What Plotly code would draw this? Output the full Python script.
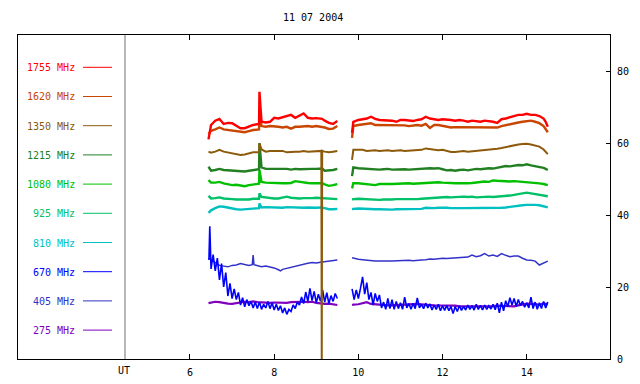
import plotly.graph_objects as go

# ---------------- data ----------------
FREQ_LABELS = ["1755 MHz", "1620 MHz", "1350 MHz", "1215 MHz", "1080 MHz",
               "925 MHz", "810 MHz", "670 MHz", "405 MHz", "275 MHz"]
COLORS = ["#ff0000", "#c84600", "#8c5a0a", "#228022", "#00c000",
          "#00c068", "#00c0c0", "#0000ff", "#3232c8", "#8000c0"]

X_TICKS = [6, 8, 10, 12, 14]
Y_TICKS = [0, 20, 40, 60, 80]
TITLE = "11 07 2004"
X_LABEL = "UT"

# common time grid (UT hours) for the upper channels
T1 = [6.44, 6.5, 6.6, 6.7, 6.8, 6.9, 7.0, 7.1, 7.2, 7.3, 7.4, 7.5, 7.64, 7.65, 7.7, 7.8,
      7.9, 8.0, 8.1, 8.2, 8.3, 8.4, 8.5, 8.6, 8.7, 8.8, 8.9, 9.0, 9.1, 9.12, 9.13, 9.14,
      9.2, 9.3, 9.4, 9.5]
T2 = [9.85, 9.88, 10.0, 10.1, 10.2, 10.3, 10.4, 10.5, 10.6, 10.7, 10.8, 10.9,
      11.0, 11.1, 11.2, 11.3, 11.4, 11.5, 11.6, 11.7, 11.8, 11.9,
      12.0, 12.1, 12.2, 12.3, 12.4, 12.5, 12.6, 12.7, 12.8, 12.9,
      13.0, 13.1, 13.2, 13.3, 13.4, 13.5, 13.6, 13.7, 13.8, 13.9,
      14.0, 14.1, 14.2, 14.3, 14.4, 14.45, 14.5]

S1755_1 = [61.0, 65.0, 66.2, 66.7, 65.3, 65.6, 65.5, 64.7, 64.1, 64.1, 64.5, 65.0, 65.3, 74.2,
           65.9, 65.7, 65.9, 67.0, 66.8, 67.2, 67.6, 67.8, 67.0, 67.6, 68.2, 67.0, 66.8, 66.9,
           66.9, 66.8, 66.8, 66.7, 66.2, 65.6, 65.3, 66.1]
S1755_2 = [62.8, 65.9, 66.4, 66.6, 66.8, 67.3, 66.7, 66.4, 66.4, 66.4, 66.2, 65.9,
           66.4, 66.4, 66.2, 66.1, 66.4, 66.6, 67.3, 66.8, 66.6, 66.4,
           66.6, 66.6, 66.4, 66.2, 66.4, 66.2, 65.9, 66.2, 66.1, 65.9,
           66.2, 66.1, 65.9, 65.6, 66.6, 66.8, 67.1, 67.3, 67.8, 67.8,
           68.1, 67.8, 67.8, 67.5, 66.8, 65.9, 64.5]

S1620_1 = [62.5, 63.4, 63.8, 64.3, 63.8, 63.6, 63.6, 63.4, 63.1, 63.0, 63.3, 63.6, 63.8, 68.0,
           64.7, 64.5, 64.7, 64.7, 64.5, 64.3, 64.5, 64.0, 64.5, 64.5, 64.7, 64.7, 64.5, 64.7,
           64.5, 64.5, 64.5, 64.5, 64.3, 63.9, 64.0, 64.7]
S1620_2 = [61.4, 64.7, 65.0, 65.2, 65.2, 65.5, 65.0, 65.0, 65.1, 65.0, 64.9, 65.0,
           65.1, 64.9, 64.7, 64.9, 65.0, 64.8, 65.3, 64.2, 65.0, 65.0,
           64.8, 64.6, 64.3, 64.4, 64.4, 64.3, 64.4, 64.5, 64.5, 64.4,
           64.5, 64.5, 64.5, 64.3, 64.7, 65.0, 65.3, 65.5, 65.7, 65.9,
           66.1, 66.2, 65.9, 65.5, 64.7, 63.8, 63.0]

S1350_1 = [57.6, 57.3, 57.6, 58.1, 57.6, 57.4, 57.3, 57.0, 56.7, 56.8, 57.0, 57.4, 57.4, 59.9,
           58.2, 57.6, 57.8, 57.8, 57.6, 57.8, 57.4, 57.6, 57.6, 57.6, 57.8, 57.6, 57.6, 57.8,
           57.8, 57.8, 0.0, 57.8, 57.6, 57.4, 57.6, 57.8]
S1350_2 = [55.3, 58.1, 58.1, 58.1, 57.8, 58.0, 58.0, 57.8, 57.9, 58.0, 57.8, 57.9,
           58.0, 57.8, 57.9, 58.0, 57.9, 58.1, 58.5, 58.3, 58.1, 58.0,
           58.1, 57.7, 57.5, 57.5, 57.6, 57.8, 57.6, 57.7, 57.8, 57.8,
           58.0, 58.0, 58.2, 58.4, 58.6, 58.9, 59.1, 59.4, 59.6, 59.7,
           59.8, 59.6, 59.4, 59.0, 58.2, 57.6, 56.9]

S1215_1 = [53.4, 52.3, 52.5, 52.8, 52.5, 52.4, 52.2, 52.2, 52.0, 52.1, 52.3, 52.5, 52.7, 60.0,
           53.2, 52.8, 52.8, 53.0, 52.9, 52.8, 52.8, 52.6, 52.8, 52.7, 52.8, 52.9, 52.8, 52.8,
           52.9, 52.9, 52.9, 52.9, 52.3, 52.3, 52.5, 52.8]
S1215_2 = [50.8, 53.2, 53.0, 52.9, 52.9, 52.7, 52.8, 52.6, 52.7, 52.8, 52.6, 52.7,
           52.8, 52.7, 52.6, 52.7, 52.8, 52.7, 52.9, 53.0, 52.9, 53.0,
           52.7, 52.4, 52.5, 52.3, 52.5, 52.6, 52.4, 52.6, 52.8, 52.7,
           52.9, 53.0, 52.9, 53.2, 53.3, 53.6, 53.5, 53.8, 53.9, 53.8,
           54.1, 53.8, 53.6, 53.4, 53.1, 52.8, 52.5]

S1080_1 = [49.7, 49.0, 49.0, 49.2, 48.8, 48.6, 48.3, 48.4, 48.1, 48.0, 48.3, 48.5, 48.7, 52.5,
           49.2, 49.0, 48.9, 49.0, 48.9, 48.8, 48.8, 48.9, 49.4, 49.2, 48.9, 48.9, 48.8, 48.9,
           48.8, 48.8, 48.8, 48.8, 48.5, 48.1, 48.3, 48.6]
S1080_2 = [47.4, 48.8, 48.8, 48.7, 48.6, 48.5, 48.3, 48.6, 48.5, 48.6, 48.6, 48.7,
           48.6, 48.7, 48.8, 48.7, 48.8, 48.9, 48.8, 49.0, 49.0, 49.1,
           49.0, 48.9, 48.7, 48.8, 48.8, 48.7, 48.8, 48.9, 49.1, 49.2,
           49.3, 49.2, 49.6, 49.5, 49.4, 49.3, 49.3, 49.4, 49.3, 49.2,
           49.3, 49.2, 49.0, 48.8, 48.6, 48.5, 48.3]

S925_1 = [45.3, 44.6, 44.7, 44.9, 44.6, 44.6, 44.4, 44.3, 44.2, 44.3, 44.3, 44.5, 44.5, 46.0,
          45.0, 44.8, 44.8, 44.6, 44.6, 44.8, 45.1, 44.8, 44.6, 44.6, 44.7, 44.6, 44.7, 44.8,
          44.7, 44.7, 44.7, 44.7, 44.5, 44.4, 44.3, 44.4]
S925_2 = [44.3, 44.4, 44.5, 44.4, 44.3, 44.3, 44.2, 44.2, 44.3, 44.2, 44.3, 44.4,
          44.4, 44.3, 44.2, 44.4, 44.4, 44.5, 44.6, 44.7, 44.8, 44.8,
          44.9, 45.0, 44.9, 45.0, 45.0, 45.1, 45.0, 45.1, 44.9, 45.0,
          45.0, 45.1, 45.0, 45.1, 45.0, 45.2, 45.4, 45.6, 45.8, 46.0,
          46.2, 46.0, 45.8, 45.7, 45.5, 45.4, 45.2]

S810_1 = [40.6, 41.3, 41.9, 42.4, 42.3, 42.0, 41.8, 41.6, 41.5, 41.6, 41.8, 41.9, 41.9, 43.2,
          42.1, 42.2, 42.1, 42.2, 42.1, 42.0, 42.2, 42.1, 42.0, 42.1, 42.0, 42.1, 42.0, 42.0,
          42.1, 42.0, 42.0, 42.0, 41.9, 41.6, 41.6, 41.7]
S810_2 = [41.6, 41.7, 41.8, 41.7, 41.7, 41.6, 41.6, 41.6, 41.5, 41.6, 41.5, 41.6,
          41.6, 41.5, 41.6, 41.6, 41.7, 41.7, 42.0, 41.9, 41.9, 42.0,
          42.1, 42.0, 41.9, 42.0, 41.9, 41.9, 41.9, 41.8, 41.9, 42.0,
          41.9, 41.9, 42.0, 41.9, 42.0, 42.1, 42.3, 42.5, 42.6, 42.7,
          42.8, 42.9, 42.8, 42.7, 42.5, 42.3, 42.1]

# 670 MHz (noisy) on its own finer time grid
T670_1 = [6.45, 6.47, 6.5, 6.55, 6.6, 6.65, 6.7, 6.75, 6.8, 6.85, 6.9, 6.95,
          7.0, 7.05, 7.1, 7.15, 7.2, 7.25, 7.3, 7.35, 7.4, 7.45, 7.5, 7.55,
          7.6, 7.65, 7.7, 7.75, 7.8, 7.85, 7.9, 7.95, 8.0, 8.05, 8.1, 8.15,
          8.2, 8.25, 8.3, 8.35, 8.4, 8.45, 8.5, 8.55, 8.6, 8.65, 8.7, 8.75,
          8.8, 8.85, 8.9, 8.95, 9.0, 9.05, 9.1, 9.15, 9.2, 9.25, 9.3, 9.35,
          9.4, 9.45, 9.5]
S670_1 = [27.5, 36.9, 25.0, 29.0, 24.5, 28.0, 22.0, 26.5, 20.0, 24.0, 17.5, 21.0,
          16.8, 19.5, 16.5, 18.5, 15.0, 17.0, 14.5, 16.5, 14.8, 16.0, 14.2, 15.8,
          14.0, 15.8, 13.8, 15.2, 14.2, 16.0, 14.0, 15.6, 13.6, 15.2, 13.5, 14.8,
          12.8, 14.2, 12.4, 13.8, 13.2, 15.0, 14.0, 15.8, 15.0, 17.2, 15.4, 18.6,
          16.0, 19.6, 16.2, 18.8, 15.6, 18.0, 16.0, 19.2, 15.8, 18.4, 15.4, 17.6,
          16.0, 18.2, 16.8]
T670_2 = [9.85, 9.9, 9.95, 10.0, 10.05, 10.1, 10.15, 10.2, 10.25, 10.3, 10.35, 10.4,
          10.45, 10.5, 10.55, 10.6, 10.65, 10.7, 10.75, 10.8, 10.85, 10.9, 10.95,
          11.0, 11.05, 11.1, 11.15, 11.2, 11.25, 11.3, 11.35, 11.4, 11.45, 11.5, 11.55,
          11.6, 11.65, 11.7, 11.75, 11.8, 11.85, 11.9, 11.95,
          12.0, 12.05, 12.1, 12.15, 12.2, 12.25, 12.3, 12.35, 12.4, 12.45, 12.5, 12.55,
          12.6, 12.65, 12.7, 12.75, 12.8, 12.85, 12.9, 12.95,
          13.0, 13.05, 13.1, 13.15, 13.2, 13.25, 13.3, 13.35, 13.4, 13.45, 13.5, 13.55,
          13.6, 13.65, 13.7, 13.75, 13.8, 13.85, 13.9, 13.95,
          14.0, 14.05, 14.1, 14.15, 14.2, 14.25, 14.3, 14.35, 14.4, 14.45, 14.5]
S670_2 = [19.5, 16.5, 19.2, 16.8, 19.6, 22.8, 18.0, 21.2, 16.5, 18.5, 15.0, 18.2,
          16.0, 17.8, 14.2, 15.8, 13.8, 16.8, 14.0, 16.5, 13.8, 16.0, 14.0,
          15.6, 13.8, 17.2, 14.2, 15.4, 13.8, 15.5, 14.0, 17.0, 14.2, 15.2, 14.0,
          15.5, 14.2, 15.3, 13.6, 15.0, 13.8, 15.2, 13.4,
          14.8, 13.5, 14.9, 13.4, 14.6, 12.6, 14.6, 13.2, 14.8, 13.5, 14.6, 13.6,
          15.0, 13.8, 14.8, 13.6, 15.2, 13.8, 14.9, 13.6,
          15.0, 13.8, 14.8, 13.9, 15.2, 13.7, 15.5, 12.8, 15.8, 13.4, 16.2, 14.5,
          17.0, 15.0, 16.8, 14.6, 16.5, 14.8, 16.0, 14.4,
          15.6, 14.2, 17.2, 14.0, 15.8, 13.8, 15.6, 14.0, 16.0, 14.2, 15.8]

# 405 MHz
T405_1 = [6.44, 6.5, 6.6, 6.7, 6.8, 6.9, 7.0, 7.1, 7.2, 7.3, 7.4, 7.48, 7.5, 7.52, 7.6,
          7.7, 7.8, 7.9, 8.0, 8.1, 8.15, 8.2, 8.3, 8.4, 8.5, 8.6, 8.7, 8.8, 8.9, 9.0,
          9.1, 9.2, 9.3, 9.4, 9.5]
S405_1 = [28.0, 27.5, 26.8, 26.0, 25.8, 25.6, 26.0, 26.1, 26.5, 26.2, 26.0, 26.2, 28.9, 26.2,
          26.0, 25.6, 25.8, 25.6, 25.3, 24.8, 24.5, 24.9, 25.2, 25.6, 25.9, 26.2, 26.4, 26.6,
          26.8, 26.7, 26.9, 27.0, 27.3, 27.2, 27.5]
S405_2 = [28.1, 28.0, 27.7, 27.6, 27.4, 27.3, 27.2, 27.2, 27.1, 27.2, 27.2, 27.3,
          27.2, 27.3, 27.4, 27.3, 27.5, 27.5, 27.6, 27.8, 27.7, 27.9,
          28.0, 27.9, 28.0, 28.1, 28.0, 28.1, 28.3, 28.9, 28.4, 28.7,
          29.3, 28.6, 28.9, 28.5, 29.3, 28.8, 28.4, 28.6, 28.6, 28.0,
          27.5, 27.4, 27.2, 26.1, 26.7, 26.9, 27.2]

# 275 MHz
T275_1 = [6.44, 6.5, 6.6, 6.7, 6.8, 6.9, 7.0, 7.1, 7.2, 7.3, 7.4, 7.5, 7.6, 7.7, 7.8, 7.9,
          8.0, 8.1, 8.2, 8.3, 8.4, 8.5, 8.6, 8.7, 8.8, 8.9, 9.0, 9.1, 9.2, 9.3, 9.4, 9.5]
S275_1 = [15.5, 15.6, 15.9, 15.8, 15.5, 15.4, 15.3, 15.5, 15.7, 15.9, 15.8, 16.0, 15.8, 15.7,
          15.8, 15.6, 15.7, 15.6, 15.7, 15.6, 15.8, 15.9, 15.8, 15.9, 15.8, 15.9, 15.6, 15.4,
          15.3, 15.4, 15.2, 15.0]
S275_2 = [15.0, 15.1, 15.2, 15.6, 15.8, 15.3, 15.2, 15.0, 14.8, 14.9, 14.9, 15.0,
          15.0, 15.1, 15.1, 15.2, 15.3, 15.2, 15.2, 15.0, 14.9, 14.9,
          14.8, 14.7, 14.7, 14.8, 14.6, 14.6, 14.5, 14.6, 14.7, 14.6,
          14.7, 14.6, 14.7, 14.8, 14.7, 14.6, 14.5, 14.6, 14.9, 15.1,
          15.4, 15.3, 15.3, 15.0, 15.5, 15.3, 15.3]

SERIES = [
    (T1, S1755_1, T2, S1755_2),
    (T1, S1620_1, T2, S1620_2),
    (T1, S1350_1, T2, S1350_2),
    (T1, S1215_1, T2, S1215_2),
    (T1, S1080_1, T2, S1080_2),
    (T1, S925_1, T2, S925_2),
    (T1, S810_1, T2, S810_2),
    (T670_1, S670_1, T670_2, S670_2),
    (T405_1, S405_1, T2, S405_2),
    (T275_1, S275_1, T2, S275_2),
]
WIDTHS = [2.4, 2.4, 2, 2.4, 2.4, 2.4, 2.4, 1.6, 1.5, 2.2]

for ta, va, tb, vb in SERIES:
    assert len(ta) == len(va) and len(tb) == len(vb), (len(ta), len(va), len(tb), len(vb))

# ---------------- figure ----------------
# The page body has an 8px margin, so the figure is sized to fill the rest
# of the 640x384 window; plot box lands at page pixels x 18..610, y 35..359.
PAGE_OFF = 8
W, H = 640 - PAGE_OFF, 384 - PAGE_OFF
BOX_L, BOX_R, BOX_T, BOX_B = 18, 610, 35, 359
ML, MT = BOX_L - PAGE_OFF, BOX_T - PAGE_OFF
MR, MB = W - (BOX_R - PAGE_OFF), H - (BOX_B - PAGE_OFF)
PW, PH = BOX_R - BOX_L, BOX_B - BOX_T
FONT = "DejaVu Sans Mono"


def px_x(px):
    return (px - BOX_L) / PW


def px_y(py):
    return (BOX_B - py) / PH


fig = go.Figure()
order = list(range(len(SERIES)))[::-1]  # lowest frequency drawn first
for i in order:
    ta, va, tb, vb = SERIES[i]
    fig.add_trace(go.Scatter(
        x=list(ta) + [None] + list(tb),
        y=list(va) + [None] + list(vb),
        mode="lines",
        line=dict(color=COLORS[i], width=WIDTHS[i]),
        connectgaps=False,
        name=FREQ_LABELS[i],
        showlegend=False,
        hoverinfo="skip",
    ))

shapes = []
annotations = []
# legend at left inside the frame
for i, lab in enumerate(FREQ_LABELS):
    yc = 67.8 + 29.2 * i
    annotations.append(dict(
        x=px_x(76.5), y=px_y(yc), xref="paper", yref="paper",
        text=lab, showarrow=False, xanchor="right", yanchor="middle",
        font=dict(family=FONT, size=10, color=COLORS[i])))
    shapes.append(dict(
        type="line", xref="paper", yref="paper",
        x0=px_x(83), x1=px_x(112), y0=px_y(yc - 0.5), y1=px_y(yc - 0.5),
        line=dict(color=COLORS[i], width=1)))

# gray separator at the time-axis origin
shapes.append(dict(type="line", xref="paper", yref="paper",
                   x0=px_x(125), x1=px_x(125), y0=0, y1=1,
                   line=dict(color="#707070", width=1)))

annotations.append(dict(x=px_x(313), y=px_y(17.5), xref="paper", yref="paper",
                        text=TITLE, showarrow=False, xanchor="center", yanchor="middle",
                        font=dict(family=FONT, size=10, color="black")))
annotations.append(dict(x=px_x(124), y=px_y(370.5), xref="paper", yref="paper",
                        text=X_LABEL, showarrow=False, xanchor="center", yanchor="middle",
                        font=dict(family=FONT, size=10, color="black")))

fig.update_layout(
    width=W, height=H,
    margin=dict(l=ML, r=MR, t=MT, b=MB, pad=0, autoexpand=False),
    paper_bgcolor="white", plot_bgcolor="white",
    shapes=shapes, annotations=annotations,
    showlegend=False,
    xaxis=dict(range=[1.914, 15.978], tickvals=X_TICKS, ticktext=[str(v) for v in X_TICKS],
               ticks="inside", ticklen=5, tickcolor="black", tickwidth=1,
               ticklabelstandoff=4,
               showline=True, linecolor="black", linewidth=1, mirror="ticks",
               showgrid=False, zeroline=False,
               tickfont=dict(family=FONT, size=10, color="black")),
    yaxis=dict(range=[0, 90], tickvals=Y_TICKS, ticktext=[str(v) for v in Y_TICKS],
               side="right", ticks="inside", ticklen=4, tickcolor="black", tickwidth=1,
               ticklabelstandoff=4,
               showline=True, linecolor="black", linewidth=1, mirror=True,
               showgrid=False, zeroline=False,
               tickfont=dict(family=FONT, size=10, color="black")),
)

fig.write_html("out.html")
